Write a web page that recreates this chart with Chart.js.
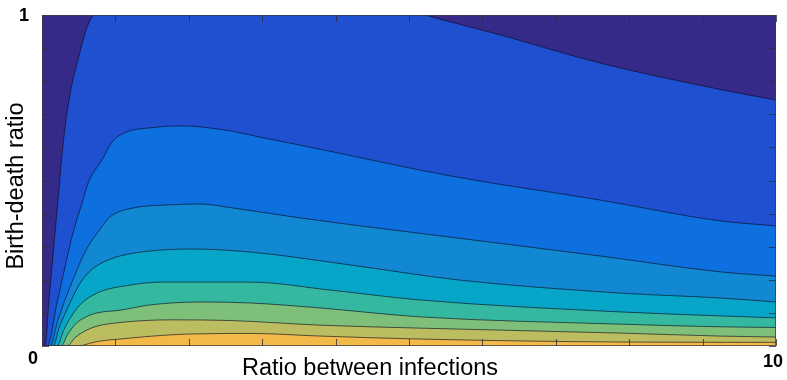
<!DOCTYPE html>
<html>
<head>
<meta charset="utf-8">
<script src="https://cdn.jsdelivr.net/npm/chart.js@4/dist/chart.umd.min.js"></script>
<style>
html,body{margin:0;padding:0;background:#ffffff;}
#wrap{width:787px;height:380px;}
</style>
</head>
<body>
<div id="wrap"><canvas id="c" width="787" height="380"></canvas></div>
<script>
// ---- axis ticks and labels ----
const xTicks = [0,1,2,3,4,5,6,7,8,9,10];
const yTicks = [0,0.1,0.2,0.3,0.4,0.5,0.6,0.7,0.8,0.9,1];
const xTickLabels = ['0','10'];
const yTickLabels = ['1'];
const xTitle = 'Ratio between infections';
const yTitle = 'Birth-death ratio';

// ---- contour level boundaries (lowest level first) ----
const level1X = [0,0.041,0.095,0.157,0.218,0.279,0.327,0.368,0.422,0.490,0.559,0.627,0.695,0.8,1.0,1.5,2.5,3.5,4.5,5.22,6.24,7.60,9.24,10];
const level1Y = [0,0,0.139,0.290,0.441,0.592,0.683,0.743,0.804,0.864,0.924,0.970,1.0,1.02,1.06,1.12,1.15,1.12,1.05,1.0,0.940,0.855,0.775,0.743];

const level2X = [0,0.068,0.213,0.422,0.559,0.627,0.817,0.954,1.158,1.471,1.880,2.153,2.561,2.970,3.515,5.559,7.602,9.237,10];
const level2Y = [0,0,0.139,0.341,0.441,0.492,0.562,0.616,0.647,0.659,0.665,0.662,0.650,0.631,0.607,0.514,0.441,0.378,0.363];

const level3X = [0,0.109,0.218,0.313,0.450,0.586,0.790,0.926,1.240,1.703,2.153,2.602,3.515,5.559,7.602,9.237,10];
const level3Y = [0,0,0.079,0.139,0.215,0.284,0.353,0.390,0.417,0.426,0.429,0.417,0.387,0.329,0.272,0.224,0.211];

const level4X = [0,0.150,0.24,0.32,0.40,0.52,0.65,0.79,1.063,1.471,2.016,2.834,4.196,5.695,7.875,9.237,10];
const level4Y = [0,0,0.06,0.10,0.139,0.19,0.225,0.248,0.272,0.287,0.293,0.284,0.245,0.199,0.160,0.145,0.133];

const level5X = [0,0.204,0.30,0.40,0.52,0.75,1.199,1.649,2.834,3.924,5.150,7.875,9.237,10];
const level5Y = [0,0,0.05,0.09,0.125,0.160,0.184,0.193,0.193,0.169,0.139,0.103,0.091,0.085];

const level6X = [0,0.259,0.35,0.45,0.60,0.75,1.063,1.471,2.153,2.834,3.787,5.150,7.875,9.237,10];
const level6Y = [0,0,0.035,0.065,0.088,0.100,0.108,0.124,0.133,0.130,0.115,0.088,0.066,0.058,0.056];

const level7X = [0,0.341,0.45,0.60,0.749,1.063,1.744,2.561,3.787,5.150,7.875,9.237,10];
const level7Y = [0,0,0.025,0.047,0.060,0.071,0.079,0.077,0.063,0.054,0.039,0.030,0.027];

const level8X = [0,0.50,0.65,0.790,1.063,1.512,1.975,2.834,3.787,5.150,7.875,10];
const level8Y = [0,0,0.008,0.015,0.021,0.030,0.036,0.038,0.030,0.021,0.012,0.011];

const backgroundColor = '#352A87';
const levelColors = ['#1F50D0','#0D70DE','#1288D2','#07A5C7','#35B8A0','#7EBF7A','#BCBC60','#F2B948'];

const levels = [
  [level1X, level1Y], [level2X, level2Y], [level3X, level3Y], [level4X, level4Y],
  [level5X, level5Y], [level6X, level6Y], [level7X, level7Y], [level8X, level8Y]
];

const datasets = levels.map(([xs, ys], i) => ({
  label: 'level ' + (i + 1),
  data: xs.map((v, j) => ({x: v, y: ys[j]})),
  backgroundColor: levelColors[i],
  borderColor: 'rgba(10,10,30,0.7)',
  borderWidth: 0.9,
  pointRadius: 0,
  fill: 'start',
  cubicInterpolationMode: 'monotone',
  order: levels.length - i
}));

const FONT = '"Liberation Sans", Arial, Helvetica, sans-serif';

const matlabAxes = {
  id: 'matlabAxes',
  beforeDatasetsDraw(chart) {
    const {ctx, chartArea: a} = chart;
    ctx.save();
    ctx.fillStyle = backgroundColor;
    ctx.fillRect(a.left, a.top, a.right - a.left, a.bottom - a.top);
    ctx.restore();
  },
  afterDatasetsDraw(chart) {
    const {ctx, chartArea: a, scales: {x, y}} = chart;
    ctx.save();
    ctx.strokeStyle = 'rgba(45,45,60,0.8)';
    ctx.lineWidth = 1;
    ctx.beginPath();
    xTicks.forEach(v => {
      const px = Math.round(x.getPixelForValue(v)) + 0.5;
      ctx.moveTo(px, a.bottom); ctx.lineTo(px, a.bottom - 7);
      ctx.moveTo(px, a.top); ctx.lineTo(px, a.top + 7);
    });
    yTicks.forEach(v => {
      const py = Math.round(y.getPixelForValue(v)) + 0.5;
      ctx.moveTo(a.left, py); ctx.lineTo(a.left + 7, py);
      ctx.moveTo(a.right, py); ctx.lineTo(a.right - 7, py);
    });
    ctx.stroke();
    ctx.strokeStyle = 'rgba(60,60,70,0.75)';
    ctx.strokeRect(a.left + 0.5, a.top + 0.5, a.right - a.left - 1, a.bottom - a.top - 1);
    ctx.restore();
  },
  afterDraw(chart) {
    const {ctx, chartArea: a, scales: {x, y}} = chart;
    ctx.save();
    ctx.fillStyle = '#000000';
    ctx.font = 'bold 18px ' + FONT;
    ctx.textBaseline = 'middle';
    ctx.textAlign = 'right';
    ctx.fillText(yTickLabels[0], a.left - 13, y.getPixelForValue(1) + 1);
    ctx.textAlign = 'center';
    ctx.fillText(xTickLabels[0], x.getPixelForValue(0) - 9, a.bottom + 13);
    ctx.fillText(xTickLabels[1], x.getPixelForValue(10) - 3, a.bottom + 16);
    ctx.font = '23.5px ' + FONT;
    ctx.fillText(xTitle, 370, 369);
    ctx.translate(17, 186);
    ctx.rotate(-Math.PI / 2);
    ctx.fillText(yTitle, 0, 0);
    ctx.restore();
  }
};

new Chart(document.getElementById('c'), {
  type: 'line',
  data: { datasets },
  options: {
    responsive: false,
    animation: false,
    devicePixelRatio: 1,
    layout: { padding: { left: 42, top: 15, right: 11, bottom: 34 } },
    plugins: { legend: { display: false }, tooltip: { enabled: false }, title: { display: false } },
    scales: {
      x: { type: 'linear', min: 0, max: 10, display: false },
      y: { type: 'linear', min: 0, max: 1, display: false }
    }
  },
  plugins: [matlabAxes]
});
</script>
</body>
</html>
